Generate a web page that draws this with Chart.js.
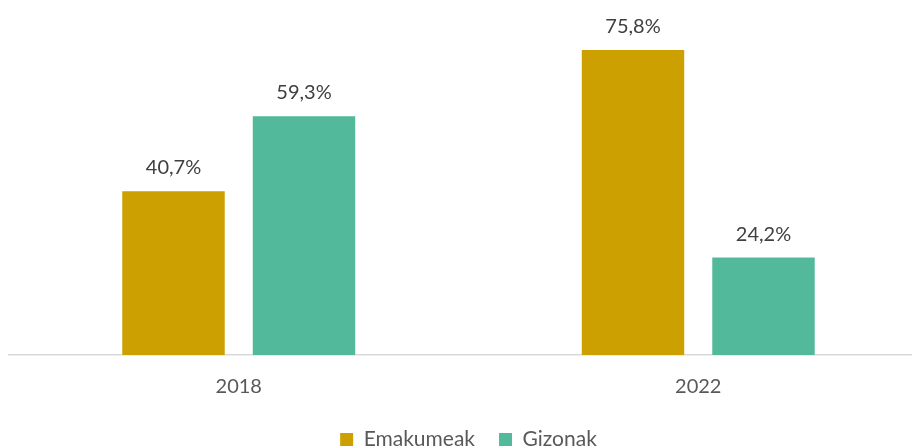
<!DOCTYPE html>
<html>
<head>
<meta charset="utf-8">
<script src="https://cdn.jsdelivr.net/npm/chart.js@4"></script>
<style>
  html, body { margin: 0; padding: 0; background: #fff; overflow: hidden; }
  #wrap { width: 912px; height: 448px; overflow: hidden; }
</style>
</head>
<body>
<div id="wrap"><canvas id="myChart" width="930" height="460"></canvas></div>
<script>
// Données
const years = ['2018', '2022'];
const emakumeak = [40.7, 75.8];
const gizonak = [59.3, 24.2];
const yMax = 80;

// Étiquettes de valeur au-dessus des barres
const valueLabels = {
    id: 'valueLabels',
    afterDatasetsDraw(chart) {
        const ctx = chart.ctx;
        ctx.save();
        ctx.font = '20px Lato';
        ctx.fillStyle = '#404040';
        ctx.textAlign = 'center';
        ctx.textBaseline = 'alphabetic';
        chart.data.datasets.forEach((ds, i) => {
            chart.getDatasetMeta(i).data.forEach((bar, j) => {
                const txt = ds.data[j].toFixed(1).replace('.', ',') + '%';
                ctx.fillText(txt, bar.x, bar.y - 17);
            });
        });
        ctx.restore();
    }
};

var ctx1 = document.getElementById('myChart').getContext('2d');
var myChart = new Chart(ctx1, {
    type: 'bar',
    data: {
        labels: years,
        datasets: [{
            label: 'Emakumeak',
            data: emakumeak,
            backgroundColor: '#CCA000'
        }, {
            label: 'Gizonak',
            data: gizonak,
            backgroundColor: '#52B99A'
        }]
    },
    options: {
        responsive: false,
        animation: false,
        categoryPercentage: 0.568,
        barPercentage: 0.785,
        layout: {
            padding: { left: 9, right: 2, top: 33, bottom: 0 }
        },
        plugins: {
            tooltip: { enabled: false },
            legend: {
                position: 'bottom',
                labels: {
                    boxWidth: 13,
                    boxHeight: 13,
                    padding: 24,
                    color: '#595959',
                    font: { family: 'Lato', size: 21 }
                }
            }
        },
        scales: {
            x: {
                grid: { display: false, drawTicks: false },
                border: { display: true, color: '#d9d9d9', width: 1.5 },
                ticks: {
                    color: '#595959',
                    padding: 20,
                    font: { family: 'Lato', size: 20 }
                },
                afterFit(scale) {
                    scale.height -= 14; // rapprocher la légende des libellés
                }
            },
            y: {
                display: false,
                min: 0,
                max: yMax
            }
        }
    },
    plugins: [valueLabels]
});
</script>
</body>
</html>
